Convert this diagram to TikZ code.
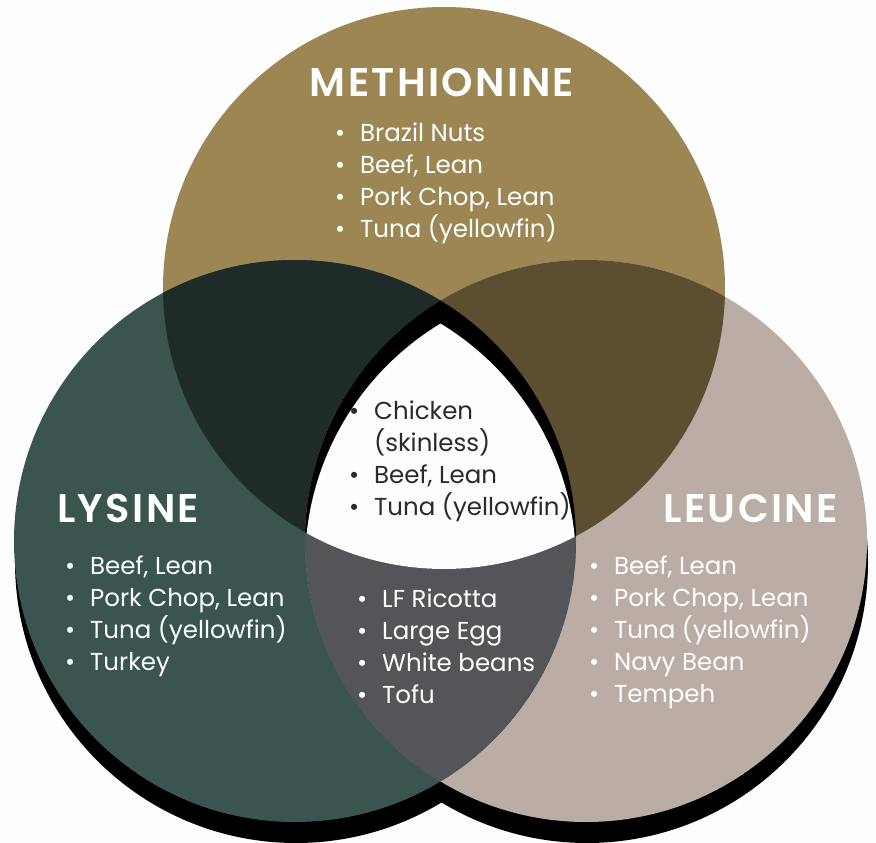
\documentclass[tikz,border=0pt]{standalone}
\usepackage{fontspec}
\setmainfont{Poppins}
\newfontfamily\headfont{Poppins SemiBold}[LetterSpace=6]
\usetikzlibrary{positioning}
\definecolor{methgold}{HTML}{9C8653}
\definecolor{lysgreen}{HTML}{3A554F}
\definecolor{leutaupe}{HTML}{BAADA5}
\definecolor{mlover}{HTML}{1E2B29}
\definecolor{meover}{HTML}{5C4E30}
\definecolor{lleover}{HTML}{545559}
\definecolor{inktext}{HTML}{2B2A2A}
\definecolor{paper}{HTML}{FDFDFD}
\newcommand{\topcirc}{(444,288) circle (281)}
\newcommand{\lyscirc}{(295,541) circle (281)}
\newcommand{\leucirc}{(586,541) circle (281)}
\newcommand{\fd}[1]{\makebox[25pt][l]{\textbullet}#1}
\begin{document}
\begin{tikzpicture}[x=1pt,y=-1pt,
	headline/.style={text=white,inner sep=0pt,font=\headfont\fontsize{40}{40}\selectfont},
	foodlist/.style={text=white,inner sep=0pt,align=left,anchor=base west,font=\fontsize{24.5}{32}\selectfont}]
	\fill[paper] (0,0) rectangle (876,843);
	\useasboundingbox (0,0) rectangle (876,843);
	\fill[black,shift={(1,21)}] \lyscirc;
	\fill[black,shift={(1,21)}] \leucirc;
	\fill[methgold] \topcirc;
	\fill[lysgreen] \lyscirc;
	\fill[leutaupe] \leucirc;
	\begin{scope}
		\clip \topcirc;
		\fill[mlover] \lyscirc;
		\fill[meover] \leucirc;
	\end{scope}
	\begin{scope}
		\clip \lyscirc;
		\fill[lleover] \leucirc;
		\clip \leucirc;
		\draw[black!70,line width=0.6pt] \lyscirc;
		\draw[black!70,line width=0.6pt] \leucirc;
	\end{scope}
	\begin{scope}
		\clip \topcirc;
		\clip \lyscirc;
		\fill[black] \leucirc;
	\end{scope}
	\begin{scope}
		\clip \topcirc;
		\clip[shift={(0,23)}] \lyscirc;
		\fill[paper,shift={(0,23)}] \leucirc;
	\end{scope}
	\node[headline] (methtitle) at (442,82) {METHIONINE};
	\node[headline,anchor=west] (lystitle) at (57,508) {LYSINE};
	\node[headline,anchor=east] (leutitle) at (838,508) {LEUCINE};
	\node[foodlist] (methfoods) at (335,237) {\fd{Brazil Nuts}\\\fd{Beef, Lean}\\\fd{Pork Chop, Lean}\\\fd{Tuna (yellowfin)}};
	\node[foodlist] (lysfoods) at (65,670) {\fd{Beef, Lean}\\\fd{Pork Chop, Lean}\\\fd{Tuna (yellowfin)}\\\fd{Turkey}};
	\node[foodlist] (leufoods) at (589,702) {\fd{Beef, Lean}\\\fd{Pork Chop, Lean}\\\fd{Tuna (yellowfin)}\\\fd{Navy Bean}\\\fd{Tempeh}};
	\node[foodlist] (lysleufoods) at (357,703) {\fd{LF Ricotta}\\\fd{Large Egg}\\\fd{White beans}\\\fd{Tofu}};
	\node[foodlist,text=inktext] (allfoods) at (349,515) {\fd{Chicken}\\\makebox[25pt]{}(skinless)\\\fd{Beef, Lean}\\\fd{Tuna (yellowfin)}};
\end{tikzpicture}
\end{document}
